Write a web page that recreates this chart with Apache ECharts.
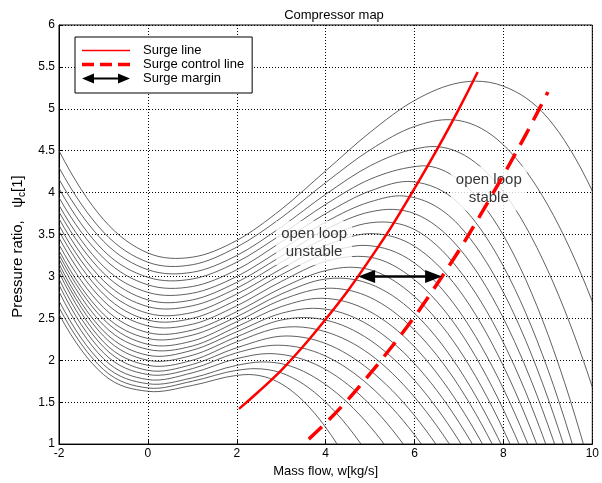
<!DOCTYPE html>
<html>
<head>
<meta charset="utf-8">
<title>Compressor map</title>
<script src="https://cdn.jsdelivr.net/npm/echarts/dist/echarts.min.js"></script>
<style>
  html, body { margin: 0; padding: 0; background: #fff; }
  #chart { width: 602px; height: 483px; }
</style>
</head>
<body>
<div id="chart"></div>
<script>
// speed lines, highest speed first: [mass flow, pressure ratio]
const speed01 = [[-2,4.50],[-1,3.68],[0,3.28],[1,3.23],[2,3.43],[3,3.80],[4,4.26],[5,4.72],[6,5.10],[7,5.31],[7.37,5.33],[8,5.27],[9,4.89],[10,4.02]];
const speed02 = [[-2,4.30],[-1,3.53],[0,3.17],[1,3.14],[2,3.35],[3,3.70],[4,4.12],[5,4.51],[6,4.79],[6.81,4.87],[7,4.86],[8,4.57],[9,3.85],[10,2.70]];
const speed03 = [[-2,4.16],[-1,3.42],[0,3.08],[1,3.05],[2,3.25],[3,3.59],[4,3.98],[5,4.32],[6,4.52],[6.46,4.55],[7,4.48],[8,4.01],[9,3.07],[10,1.68]];
const speed04 = [[-2,4.05],[-1,3.31],[0,2.99],[1,2.97],[2,3.17],[3,3.50],[4,3.86],[5,4.16],[6,4.31],[6.19,4.32],[7,4.15],[8,3.49],[9,2.31],[10,0.62]];
const speed05 = [[-2,3.94],[-1,3.22],[0,2.90],[1,2.88],[2,3.08],[3,3.41],[4,3.75],[5,4.02],[5.97,4.13],[7,3.87],[8,3.12],[9,1.89],[10,0.16]];
const speed06 = [[-2,3.85],[-1,3.12],[0,2.81],[1,2.80],[2,3.00],[3,3.32],[4,3.65],[5,3.89],[5.76,3.96],[7,3.61],[8,2.81],[9,1.55],[10,-0.17]];
const speed07 = [[-2,3.77],[-1,3.04],[0,2.72],[1,2.72],[2,2.93],[3,3.24],[4,3.56],[5,3.77],[5.53,3.80],[6,3.75],[7,3.34],[8,2.50],[9,1.23],[10,-0.47]];
const speed08 = [[-2,3.69],[-1,2.95],[0,2.64],[1,2.65],[2,2.86],[3,3.17],[4,3.46],[5,3.64],[5.32,3.65],[6,3.56],[7,3.08],[8,2.21],[9,0.93]];
const speed09 = [[-2,3.61],[-1,2.87],[0,2.56],[1,2.57],[2,2.79],[3,3.09],[4,3.37],[5.12,3.51],[6,3.36],[7,2.84],[8,1.93],[9,0.64]];
const speed10 = [[-2,3.54],[-1,2.79],[0,2.48],[1,2.50],[2,2.72],[3,3.02],[4,3.27],[4.91,3.37],[6,3.16],[7,2.59],[8,1.66],[9,0.38]];
const speed11 = [[-2,3.46],[-1,2.71],[0,2.41],[1,2.43],[2,2.65],[3,2.94],[4,3.18],[4.72,3.24],[5,3.23],[6,2.96],[7,2.36],[8,1.41],[9,0.13]];
const speed12 = [[-2,3.38],[-1,2.63],[0,2.33],[1,2.36],[2,2.58],[3,2.86],[4,3.07],[4.54,3.11],[5,3.08],[6,2.76],[7,2.13],[8,1.17],[9,-0.11]];
const speed13 = [[-2,3.31],[-1,2.55],[0,2.26],[1,2.30],[2,2.52],[3,2.79],[4,2.97],[4.34,2.98],[5,2.91],[6,2.56],[7,1.90],[8,0.94]];
const speed14 = [[-2,3.26],[-1,2.49],[0,2.19],[1,2.23],[2,2.46],[3,2.72],[4.13,2.86],[5,2.75],[6,2.36],[7,1.69],[8,0.73]];
const speed15 = [[-2,3.21],[-1,2.42],[0,2.13],[1,2.17],[2,2.40],[3,2.64],[3.91,2.74],[5,2.58],[6,2.16],[7,1.47],[8,0.52]];
const speed16 = [[-2,3.15],[-1,2.35],[0,2.06],[1,2.12],[2,2.34],[3,2.56],[3.70,2.62],[4,2.61],[5,2.41],[6,1.96],[7,1.26],[8,0.31]];
const speed17 = [[-2,3.10],[-1,2.29],[0,2.00],[1,2.06],[2,2.28],[3,2.48],[3.50,2.51],[4,2.48],[5,2.24],[6,1.76],[7,1.04],[8,0.08]];
const speed18 = [[-2,3.05],[-1,2.22],[0,1.94],[1,2.00],[2,2.22],[3,2.39],[3.30,2.40],[4,2.34],[5,2.07],[6,1.56],[7,0.82]];
const speed19 = [[-2,2.97],[-1,2.16],[0,1.88],[1,1.95],[2,2.15],[3.11,2.29],[4,2.20],[5,1.88],[6,1.34],[7,0.57]];
const speed20 = [[-2,2.90],[-1,2.09],[0,1.83],[1,1.90],[2,2.09],[2.91,2.18],[4,2.05],[5,1.69],[6,1.11],[7,0.30]];
const speed21 = [[-2,2.82],[-1,2.02],[0,1.77],[1,1.85],[2,2.02],[2.73,2.08],[3,2.07],[4,1.89],[5,1.47],[6,0.81]];
const speed22 = [[-2,2.71],[-1,1.95],[0,1.72],[1,1.79],[2,1.94],[2.56,1.98],[3,1.96],[4,1.71],[5,1.21],[6,0.46]];
const speed23 = [[-2,2.63],[-1,1.89],[0,1.67],[1,1.75],[2,1.88],[2.41,1.90],[3,1.85],[4,1.50],[5,0.84]];
const speed24 = [[-2,2.55],[-1,1.83],[0,1.63],[1,1.70],[2,1.82],[2.28,1.83],[3,1.72],[4,1.20],[5,0.27]];
const speedLines = [speed01, speed02, speed03, speed04, speed05, speed06, speed07, speed08,
  speed09, speed10, speed11, speed12, speed13, speed14, speed15, speed16,
  speed17, speed18, speed19, speed20, speed21, speed22, speed23, speed24];

const surgeLine = [[2.05,1.42],[2.5,1.63],[3.0,1.88],[3.5,2.17],[4.0,2.49],[4.5,2.83],[5.0,3.21],[5.5,3.61],[6.0,4.05],[6.5,4.51],[7.0,5.00],[7.42,5.44]];
const surgeControlLine = [[3.62,1.06],[4.0,1.25],[4.5,1.53],[5.0,1.84],[5.5,2.17],[6.0,2.52],[6.62,3.0],[7.0,3.31],[7.5,3.75],[8.0,4.21],[8.5,4.69],[9.0,5.2]];
// from flow, to flow, pressure ratio
const surgeMargin = [[4.73, 6.62, 3.0]];
const notes = [[3.74, 3.40, 'open loop\nunstable'], [7.67, 4.05, 'open loop\nstable']];
const xRange = [-2, 10];
const yRange = [1, 6];

const font = 'Liberation Sans, Arial, Helvetica, sans-serif';
const chart = echarts.init(document.getElementById('chart'));

// smooth curve through the given points, drawn with the axes' coord()
function curveSeries(pts, stroke, width, dash, z, name) {
  return {
    name: name,
    type: 'custom',
    z: z,
    silent: true,
    clip: true,
    itemStyle: { color: stroke },
    data: pts,
    renderItem: function (params, api) {
      if (params.dataIndex !== 0) return null;
      const n = pts.length;
      const m = [];
      for (let i = 0; i < n; i++) {
        if (i > 0 && i < n - 1) {
          const h0 = pts[i][0] - pts[i - 1][0], h1 = pts[i + 1][0] - pts[i][0];
          const d0 = (pts[i][1] - pts[i - 1][1]) / h0, d1 = (pts[i + 1][1] - pts[i][1]) / h1;
          m.push((d0 * h1 + d1 * h0) / (h0 + h1));
        } else {
          m.push(null);
        }
      }
      const dFirst = (pts[1][1] - pts[0][1]) / (pts[1][0] - pts[0][0]);
      const dLast = (pts[n - 1][1] - pts[n - 2][1]) / (pts[n - 1][0] - pts[n - 2][0]);
      m[0] = n > 2 ? 2 * dFirst - m[1] : dFirst;
      m[n - 1] = n > 2 ? 2 * dLast - m[n - 2] : dLast;
      let p = api.coord(pts[0]);
      let d = 'M' + p[0] + ',' + p[1];
      for (let i = 0; i < n - 1; i++) {
        const h = pts[i + 1][0] - pts[i][0];
        const c1 = api.coord([pts[i][0] + h / 3, pts[i][1] + m[i] * h / 3]);
        const c2 = api.coord([pts[i + 1][0] - h / 3, pts[i + 1][1] - m[i + 1] * h / 3]);
        const e = api.coord(pts[i + 1]);
        d += 'C' + c1[0] + ',' + c1[1] + ' ' + c2[0] + ',' + c2[1] + ' ' + e[0] + ',' + e[1];
      }
      const cs = params.coordSys;
      return {
        type: 'path',
        shape: { pathData: d },
        style: { fill: 'none', stroke: stroke, lineWidth: width, lineDash: dash || null },
        clipPath: { type: 'rect', shape: { x: cs.x, y: cs.y, width: cs.width, height: cs.height } }
      };
    }
  };
}

const series = speedLines.map(function (pts) {
  return curveSeries(pts, '#383838', 0.8, null, 2);
});

series.push({
  type: 'scatter',
  z: 3,
  silent: true,
  symbolSize: 0.1,
  itemStyle: { color: 'transparent' },
  data: notes,
  label: {
    show: true,
    position: 'inside',
    formatter: function (p) { return p.data[2]; },
    color: '#000',
    fontFamily: font,
    fontSize: 15,
    lineHeight: 18,
    backgroundColor: '#fff',
    padding: [4, 5]
  }
});

series.push(curveSeries(surgeLine, '#ff0000', 2.5, null, 4, 'Surge line'));
series.push(curveSeries(surgeControlLine, '#ff0000', 3.5, [18, 10], 4, 'Surge control line'));

// double headed arrow between the two lines
series.push({
  name: 'Surge margin',
  type: 'custom',
  z: 5,
  silent: true,
  itemStyle: { color: '#000' },
  encode: { x: [0, 1], y: 2 },
  data: surgeMargin,
  renderItem: function (params, api) {
    const a = api.coord([api.value(0), api.value(2)]);
    const b = api.coord([api.value(1), api.value(2)]);
    const hl = 17, hw = 6.5;
    return {
      type: 'group',
      children: [
        { type: 'line', shape: { x1: a[0] + hl - 2, y1: a[1], x2: b[0] - hl + 2, y2: b[1] }, style: { stroke: '#000', lineWidth: 2.5 } },
        { type: 'polygon', shape: { points: [a, [a[0] + hl, a[1] - hw], [a[0] + hl, a[1] + hw]] }, style: { fill: '#000' } },
        { type: 'polygon', shape: { points: [b, [b[0] - hl, b[1] - hw], [b[0] - hl, b[1] + hw]] }, style: { fill: '#000' } }
      ]
    };
  }
});

const option = {
  animation: false,
  backgroundColor: '#fff',
  title: {
    text: 'Compressor map',
    left: 329,
    top: 4,
    textAlign: 'center',
    textStyle: { fontFamily: font, fontSize: 13, fontWeight: 'normal', color: '#000' }
  },
  legend: {
    orient: 'vertical',
    left: 75,
    top: 37,
    selectedMode: false,
    backgroundColor: '#fff',
    borderColor: '#000',
    borderWidth: 1,
    borderRadius: 0,
    padding: [7, 8, 8, 7],
    itemWidth: 48,
    itemHeight: 12,
    itemGap: 1,
    textStyle: { fontFamily: font, fontSize: 13, color: '#000', padding: [0, 0, 0, 8] },
    data: [
      { name: 'Surge line', icon: 'path://M0,0H48V1.5H0Z', itemStyle: { color: '#ff0000' } },
      { name: 'Surge control line', icon: 'path://M0,0H12V3.5H0Z M18,0H30V3.5H18Z M36,0H48V3.5H36Z', itemStyle: { color: '#ff0000' } },
      { name: 'Surge margin', icon: 'path://M0,5L12,0L12,4L36,4L36,0L48,5L36,10L36,6L12,6L12,10Z', itemStyle: { color: '#000' } }
    ]
  },
  grid: {
    left: 59, right: 8, top: 25, bottom: 32,
    containLabel: false,
    show: true,
    borderColor: '#000',
    borderWidth: 1
  },
  xAxis: {
    type: 'value',
    min: xRange[0],
    max: xRange[1],
    interval: 2,
    name: 'Mass flow, w[kg/s]',
    nameLocation: 'middle',
    nameGap: 14,
    nameTextStyle: { fontFamily: font, fontSize: 13, color: '#000' },
    axisLine: { show: true, onZero: false, lineStyle: { color: '#000', width: 1 } },
    axisTick: { show: true, inside: true, length: 4, lineStyle: { color: '#000' } },
    axisLabel: { fontFamily: font, fontSize: 12, color: '#000', margin: 4 },
    splitLine: { show: true, lineStyle: { color: '#000', width: 1, type: [1, 2] } }
  },
  yAxis: {
    type: 'value',
    min: yRange[0],
    max: yRange[1],
    interval: 0.5,
    name: 'Pressure ratio,   ψ{sub|c}[1]',
    nameLocation: 'middle',
    nameGap: 27,
    nameRotate: 90,
    nameTextStyle: {
      fontFamily: font, fontSize: 15, color: '#000',
      padding: [0, 24, 0, 0],
      rich: { sub: { fontFamily: font, fontSize: 10, color: '#000', padding: [9, 0, 0, 0] } }
    },
    axisLine: { show: true, onZero: false, lineStyle: { color: '#000', width: 1 } },
    axisTick: { show: true, inside: true, length: 4, lineStyle: { color: '#000' } },
    axisLabel: { fontFamily: font, fontSize: 12, color: '#000', margin: 4 },
    splitLine: { show: true, lineStyle: { color: '#000', width: 1, type: [1, 2] } }
  },
  series: series
};

chart.setOption(option);
</script>
</body>
</html>
